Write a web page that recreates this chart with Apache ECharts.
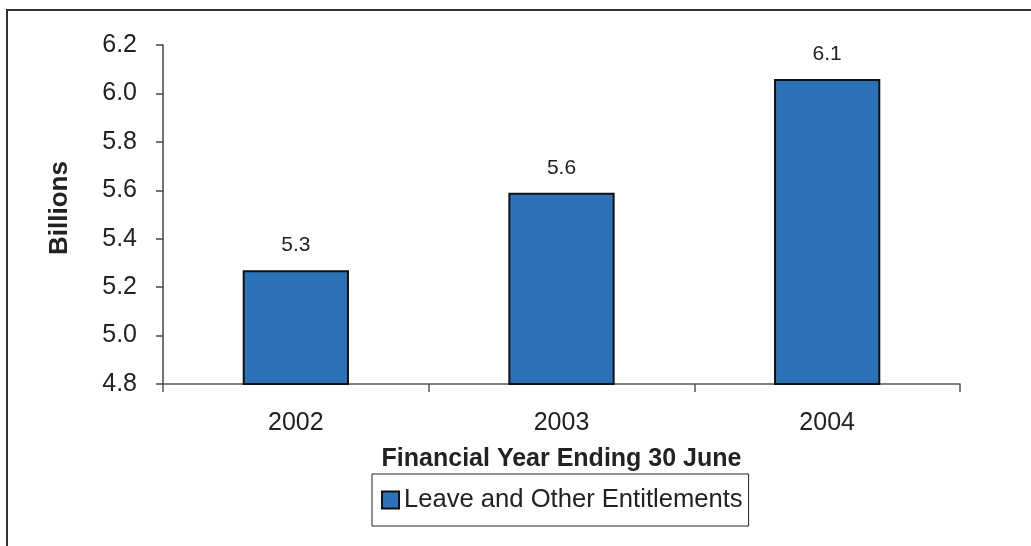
<!DOCTYPE html>
<html>
<head>
<meta charset="utf-8">
<style>
  html, body { margin: 0; padding: 0; background: #fff; }
  #chart { width: 1031px; height: 546px; }
</style>
<script src="https://cdn.jsdelivr.net/npm/echarts@6/dist/echarts.min.js"></script>
</head>
<body>
<div id="chart"></div>
<script>
// Leave and other entitlements by financial year (billions)
const years = ['2002', '2003', '2004'];
const entitlements = [5.27, 5.59, 6.06];
const seriesName = 'Leave and Other Entitlements';
const yTicks = { min: 4.8, max: 6.2, step: 0.2 };

const FONT = '"Liberation Sans", Arial, sans-serif';
const INK = '#222';

const chart = echarts.init(document.getElementById('chart'), null, { renderer: 'canvas' });
chart.setOption({
  backgroundColor: '#fff',
  animation: false,
  textStyle: { fontFamily: FONT, color: INK },
  graphic: [{
    // chart frame
    type: 'rect',
    shape: { x: 7, y: 10, width: 1100, height: 700 },
    style: { fill: 'none', stroke: '#333', lineWidth: 2 },
    silent: true,
    z: -10
  }, {
    // value-axis title
    type: 'text',
    x: 60,
    y: 208,
    rotation: Math.PI / 2,
    style: {
      text: 'Billions',
      fontFamily: FONT,
      fontSize: 26,
      fontWeight: 'bold',
      fill: INK,
      align: 'center',
      verticalAlign: 'middle'
    },
    silent: true
  }],
  grid: { left: 163, right: 71, top: 45, bottom: 162, containLabel: false },
  legend: {
    data: [seriesName],
    left: 372,
    top: 474,
    orient: 'horizontal',
    icon: 'rect',
    itemWidth: 17,
    itemHeight: 17,
    padding: [13, 6, 13, 9],
    borderColor: '#222',
    borderWidth: 1,
    textStyle: { fontFamily: FONT, fontSize: 25.6, color: INK }
  },
  xAxis: {
    type: 'category',
    data: years,
    name: 'Financial Year Ending 30 June',
    nameLocation: 'middle',
    nameGap: 63,
    nameTextStyle: { fontFamily: FONT, fontSize: 25, fontWeight: 'bold', color: INK },
    axisLine: { lineStyle: { color: '#555', width: 1.5 } },
    axisTick: { show: true, length: 8, inside: false, alignWithLabel: false, lineStyle: { color: '#555', width: 1.5 } },
    axisLabel: { fontFamily: FONT, fontSize: 25, color: INK, margin: 27 },
    splitLine: { show: false }
  },
  yAxis: {
    type: 'value',
    min: yTicks.min,
    max: yTicks.max,
    interval: yTicks.step,
    axisLine: { show: true, lineStyle: { color: '#444', width: 1.5 } },
    axisTick: { show: true, length: 7, lineStyle: { color: '#444', width: 1.5 } },
    axisLabel: {
      fontFamily: FONT, fontSize: 25, color: INK, margin: 26,
      formatter: v => v.toFixed(1)
    },
    splitLine: { show: false }
  },
  series: [{
    name: seriesName,
    type: 'bar',
    data: entitlements,
    barWidth: '40%',
    itemStyle: { color: '#2a71b8', borderColor: '#111', borderWidth: 2 },
    label: {
      show: true,
      position: 'top',
      distance: 14,
      fontFamily: FONT,
      fontSize: 21,
      color: INK,
      formatter: p => p.value.toFixed(1)
    }
  }]
});
</script>
</body>
</html>
